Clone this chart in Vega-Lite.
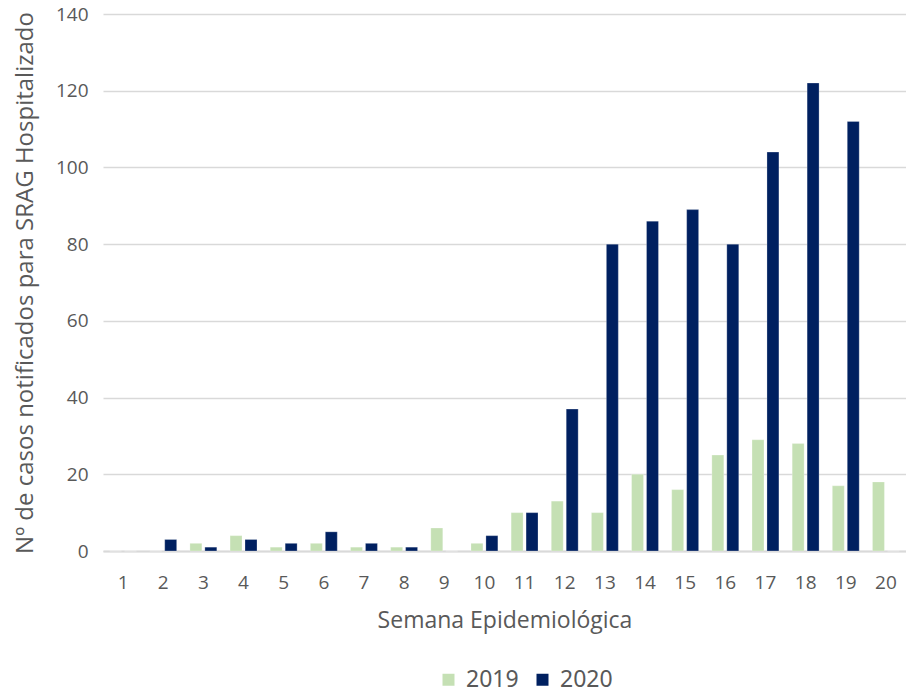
{
  "$schema": "https://vega.github.io/schema/vega-lite/v6.json",
  "width": 803,
  "height": 537,
  "autosize": {"type": "none"},
  "padding": {"left": 103, "top": 14, "right": 0, "bottom": 144},
  "background": "white",
  "config": {
    "view": {"stroke": null},
    "font": "Open Sans"
  },
  "data": {
    "values": [
      {"semana": 1, "ano": "2019", "casos": 0}, {"semana": 1, "ano": "2020", "casos": 0},
      {"semana": 2, "ano": "2019", "casos": 0}, {"semana": 2, "ano": "2020", "casos": 3},
      {"semana": 3, "ano": "2019", "casos": 2}, {"semana": 3, "ano": "2020", "casos": 1},
      {"semana": 4, "ano": "2019", "casos": 4}, {"semana": 4, "ano": "2020", "casos": 3},
      {"semana": 5, "ano": "2019", "casos": 1}, {"semana": 5, "ano": "2020", "casos": 2},
      {"semana": 6, "ano": "2019", "casos": 2}, {"semana": 6, "ano": "2020", "casos": 5},
      {"semana": 7, "ano": "2019", "casos": 1}, {"semana": 7, "ano": "2020", "casos": 2},
      {"semana": 8, "ano": "2019", "casos": 1}, {"semana": 8, "ano": "2020", "casos": 1},
      {"semana": 9, "ano": "2019", "casos": 6}, {"semana": 9, "ano": "2020", "casos": 0},
      {"semana": 10, "ano": "2019", "casos": 2}, {"semana": 10, "ano": "2020", "casos": 4},
      {"semana": 11, "ano": "2019", "casos": 10}, {"semana": 11, "ano": "2020", "casos": 10},
      {"semana": 12, "ano": "2019", "casos": 13}, {"semana": 12, "ano": "2020", "casos": 37},
      {"semana": 13, "ano": "2019", "casos": 10}, {"semana": 13, "ano": "2020", "casos": 80},
      {"semana": 14, "ano": "2019", "casos": 20}, {"semana": 14, "ano": "2020", "casos": 86},
      {"semana": 15, "ano": "2019", "casos": 16}, {"semana": 15, "ano": "2020", "casos": 89},
      {"semana": 16, "ano": "2019", "casos": 25}, {"semana": 16, "ano": "2020", "casos": 80},
      {"semana": 17, "ano": "2019", "casos": 29}, {"semana": 17, "ano": "2020", "casos": 104},
      {"semana": 18, "ano": "2019", "casos": 28}, {"semana": 18, "ano": "2020", "casos": 122},
      {"semana": 19, "ano": "2019", "casos": 17}, {"semana": 19, "ano": "2020", "casos": 112},
      {"semana": 20, "ano": "2019", "casos": 18}, {"semana": 20, "ano": "2020", "casos": 0}
    ]
  },
  "mark": {"type": "bar", "stroke": "white", "strokeWidth": 0.5, "strokeOpacity": 0.5},
  "encoding": {
    "x": {
      "field": "semana",
      "type": "ordinal",
      "title": "Semana Epidemiológica",
      "scale": {"paddingInner": 0.33, "paddingOuter": 0.165},
      "axis": {
        "labelAngle": 0,
        "labelFontSize": 19,
        "labelColor": "#595959",
        "labelPadding": 22,
        "ticks": false,
        "domainColor": "#d9d9d9",
        "domainWidth": 2,
        "titleFontSize": 23,
        "titleFontWeight": "normal",
        "titleColor": "#595959",
        "titlePadding": 17
      }
    },
    "xOffset": {"field": "ano", "type": "nominal", "scale": {"paddingInner": 0.2}},
    "y": {
      "field": "casos",
      "type": "quantitative",
      "title": "Nº de casos notificados para SRAG Hospitalizado",
      "scale": {"domain": [0, 140]},
      "axis": {
        "values": [0, 20, 40, 60, 80, 100, 120, 140],
        "labelFontSize": 19,
        "labelColor": "#595959",
        "labelPadding": 15,
        "ticks": false,
        "domain": false,
        "gridColor": "#d9d9d9",
        "gridWidth": 1.5,
        "titleFontSize": 24,
        "titleFontWeight": "normal",
        "titleColor": "#595959",
        "titlePadding": 18
      }
    },
    "color": {
      "field": "ano",
      "type": "nominal",
      "title": null,
      "scale": {"domain": ["2019", "2020"], "range": ["#c5e0b4", "#002060"]},
      "legend": {
        "orient": "none",
        "direction": "horizontal",
        "legendX": 334,
        "legendY": 654,
        "symbolType": "square",
        "symbolSize": 144,
        "symbolStrokeWidth": 0,
        "labelFontSize": 23,
        "labelColor": "#595959",
        "labelFont": "Noto Sans",
        "columnPadding": 12,
        "labelOffset": 6
      }
    }
  }
}
